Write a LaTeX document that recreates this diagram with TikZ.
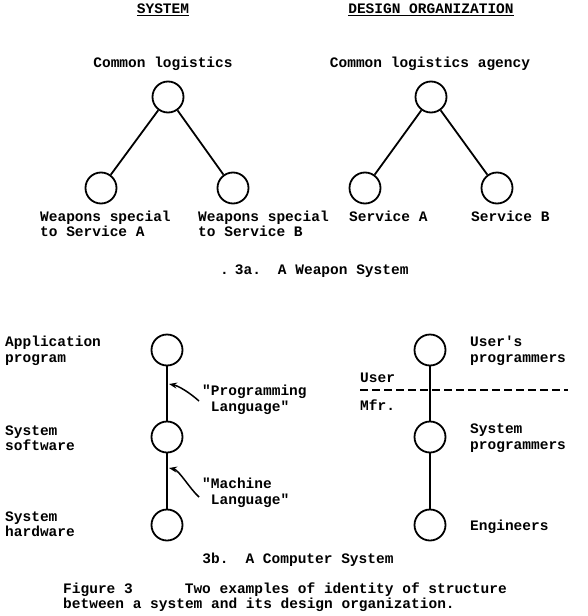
\documentclass[tikz,border=0pt]{standalone}
\usepackage{fontspec}
\setmonofont{Liberation Mono}
\usetikzlibrary{arrows.meta}

\begin{document}
\begin{tikzpicture}[
    x=1pt,y=-1pt,
    ring/.style={draw, circle, line width=1.8pt, minimum size=31pt, inner sep=0pt},
    link/.style={draw, line width=1.8pt},
    txt/.style={font=\ttfamily\bfseries\fontsize{14.5}{15.5}\selectfont, inner sep=0pt, align=left},
    pointer/.style={draw, line width=1.5pt, -{Stealth[length=8pt,width=6pt]}},
    divide/.style={draw, line width=1.3pt, dash pattern=on 8pt off 4pt}
  ]
  \useasboundingbox (0,0) rectangle (588,616);
  % 3a. weapon system
  \node[txt] (hsys) at (163,10) {\underline{SYSTEM}};
  \node[txt] (horg) at (431,10) {\underline{DESIGN ORGANIZATION}};
  \node[txt] (tlog) at (163,64) {Common logistics};
  \node[txt] (tagency) at (430,64) {Common logistics agency};
  \node[ring] (log) at (168,97) {};
  \node[ring] (wpa) at (101,188) {};
  \node[ring] (wpb) at (233,188) {};
  \node[ring] (agency) at (431,97) {};
  \node[ring] (sva) at (365,188) {};
  \node[ring] (svb) at (497,188) {};
  \draw[link] (log) -- (wpa);
  \draw[link] (log) -- (wpb);
  \draw[link] (agency) -- (sva);
  \draw[link] (agency) -- (svb);
  \node[txt, anchor=west] (twpa) at (40,224) {Weapons special\\to Service A};
  \node[txt, anchor=west] (twpb) at (198,224) {Weapons special\\to Service B};
  \node[txt, anchor=west] (tsva) at (349,216) {Service A};
  \node[txt, anchor=west] (tsvb) at (471,216) {Service B};
  \node[txt, anchor=west] (cap3a) at (220,271) {.\hspace{6pt}3a.\hspace{17pt}A Weapon System};
  % 3b. computer system
  \node[ring] (app) at (167,350) {};
  \node[ring] (syssw) at (167,437) {};
  \node[ring] (syshw) at (167,525) {};
  \node[ring] (users) at (430,350) {};
  \node[ring] (sysprog) at (430,437) {};
  \node[ring] (eng) at (430,525) {};
  \draw[link] (app) -- (syssw) -- (syshw);
  \draw[link] (users) -- (sysprog) -- (eng);
  \node[txt, anchor=west] (tapp) at (5,351) {Application\\program};
  \node[txt, anchor=west] (tsyssw) at (5,438) {System\\software};
  \node[txt, anchor=west] (tsyshw) at (5,524) {System\\hardware};
  \node[txt, anchor=west] (tplang) at (202,400) {"Programming\\\hspace*{8.7pt}Language"};
  \node[txt, anchor=west] (tmlang) at (202,493) {"Machine\\\hspace*{8.7pt}Language"};
  \coordinate (plang) at (169,384);
  \coordinate (mlang) at (169,468);
  \draw[pointer] ([xshift=-3pt,yshift=-1pt]tplang.west) .. controls +(-9,-8) and +(10,2) .. (plang);
  \draw[pointer] ([xshift=-3pt,yshift=-4pt]tmlang.west) .. controls +(-9,-8) and +(10,2) .. (mlang);
  \node[txt, anchor=west] (tusers) at (470,351) {User's\\programmers};
  \node[txt, anchor=west] (tsysprog) at (470,438) {System\\programmers};
  \node[txt, anchor=west] (teng) at (470,527) {Engineers};
  \node[txt, anchor=west] (tuser) at (360,378) {User};
  \node[txt, anchor=west] (tmfr) at (360,405) {Mfr.};
  \coordinate (dl) at (360,390);
  \coordinate (dr) at (568,390);
  \draw[divide] (dl) -- (dr);
  \node[txt] (cap3b) at (298,560) {3b.\hspace{17pt}A Computer System};
  % caption
  \node[txt, anchor=west] (fig) at (63,597) {Figure 3\hspace{52pt}Two examples of identity of structure\\between a system and its design organization.};
\end{tikzpicture}
\end{document}
